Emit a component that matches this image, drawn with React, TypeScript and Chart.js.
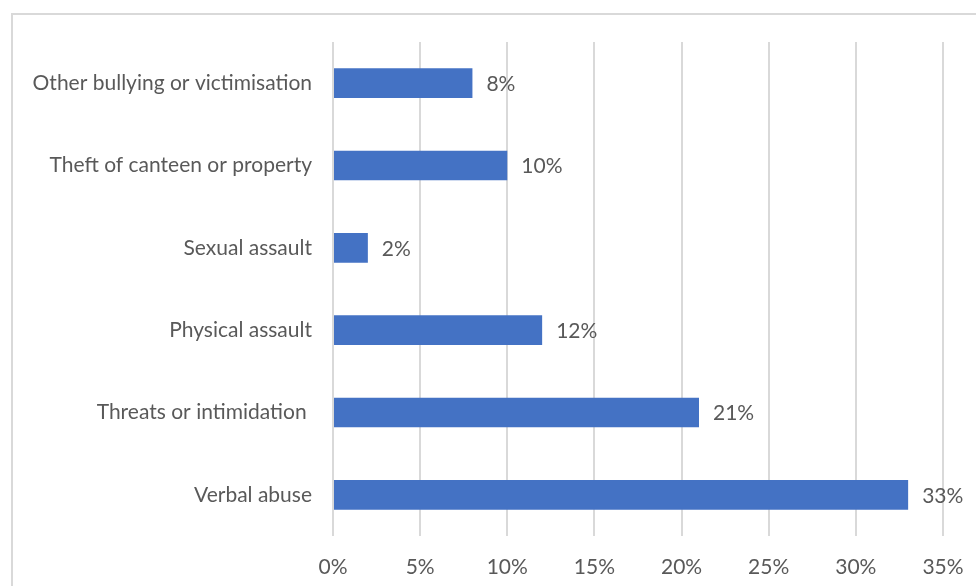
import React, { useEffect, useRef } from "react";
import { Chart, registerables } from "chart.js";

Chart.register(...registerables);

const categories = [
  "Other bullying or victimisation",
  "Theft of canteen or property",
  "Sexual assault",
  "Physical assault",
  "Threats or intimidation ",
  "Verbal abuse",
];
const values = [8, 10, 2, 12, 21, 33];
const xTicks = [0, 5, 10, 15, 20, 25, 30, 35];

const FONT = "Lato, 'Noto Sans', sans-serif";
const TEXT = "#595959";

const labelPlugin = {
  id: "barLabels",
  afterDatasetsDraw(chart: any) {
    const ctx = chart.ctx;
    const meta = chart.getDatasetMeta(0);
    ctx.save();
    ctx.font = `21px ${FONT}`;
    ctx.fillStyle = TEXT;
    ctx.textAlign = "left";
    ctx.textBaseline = "middle";
    meta.data.forEach((bar: any, i: number) => {
      ctx.fillText(`${values[i]}%`, bar.x + 14, bar.y + 1);
    });
    ctx.restore();
  },
};

export default function App() {
  const ref = useRef<HTMLCanvasElement | null>(null);
  useEffect(() => {
    if (!ref.current) return;
    const chart = new Chart(ref.current, {
      type: "bar",
      data: {
        labels: categories,
        datasets: [
          {
            data: values,
            backgroundColor: "#4472C4",
            borderWidth: 0,
            categoryPercentage: 1,
            barPercentage: 0.36,
          },
        ],
      },
      options: {
        indexAxis: "y",
        animation: false,
        responsive: false,
        maintainAspectRatio: false,
        devicePixelRatio: 1,
        layout: { padding: { left: 0, top: 42, right: 33, bottom: 0 } },
        plugins: { legend: { display: false }, tooltip: { enabled: false } },
        scales: {
          x: {
            min: 0,
            max: 35,
            afterBuildTicks(scale: any) {
              scale.ticks = xTicks.map((v) => ({ value: v }));
            },
            afterFit(scale: any) {
              scale.height = 50;
              scale.paddingLeft = 0;
              scale.paddingRight = 0;
            },
            grid: { color: "#d9d9d9", lineWidth: 2, drawTicks: false },
            border: { display: false },
            ticks: {
              padding: 19,
              color: TEXT,
              font: { family: FONT, size: 21 },
              callback: (v: any) => `${v}%`,
            },
          },
          y: {
            afterFit(scale: any) {
              scale.width = 333;
              scale.paddingTop = 0;
              scale.paddingBottom = 0;
            },
            grid: { display: false, drawTicks: false },
            border: { display: false },
            ticks: {
              padding: 21,
              color: TEXT,
              font: { family: FONT, size: 21 },
            },
          },
        },
      },
      plugins: [labelPlugin],
    });
    return () => chart.destroy();
  }, []);
  return (
    <div style={{ position: "fixed", left: 0, top: 0, width: 976, height: 586, background: "#fff", overflow: "hidden" }}>
      <div
        style={{
          position: "absolute",
          left: 11,
          top: 13,
          width: 1000,
          height: 600,
          border: "2px solid #d9d9d9",
          boxSizing: "border-box",
        }}
      />
      <canvas ref={ref} width={976} height={586} style={{ position: "absolute", left: 0, top: 0, width: 976, height: 586 }} />
    </div>
  );
}
